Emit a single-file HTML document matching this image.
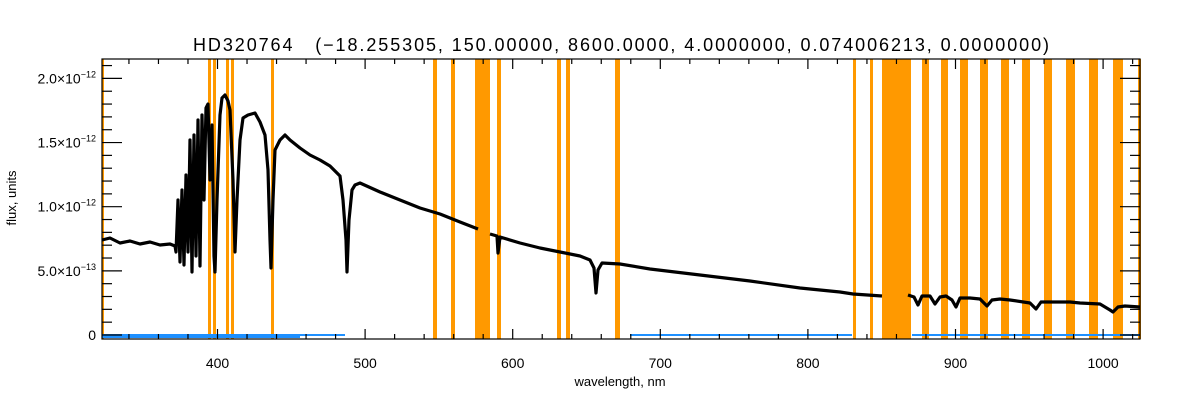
<!DOCTYPE html>
<html><head><meta charset="utf-8"><style>
body{margin:0;background:#fff;width:1200px;height:400px;overflow:hidden}
svg{display:block;font-family:"Liberation Sans",sans-serif}
</style></head><body>
<svg id="s" width="1200" height="400" xmlns="http://www.w3.org/2000/svg">
<text x="621" y="51" font-size="18" text-anchor="middle" fill="#000" textLength="856" lengthAdjust="spacing" style="white-space:pre">HD320764&#160;&#160;&#160;(−18.255305, 150.00000, 8600.0000, 4.0000000, 0.074006213, 0.0000000)</text>
<g id="bands" fill="#ff9900"></g>
<g stroke="#1e90ff" stroke-width="2" fill="none">
<path d="M102 335 H345 M102 337 H300 M630 335 H852 M912 335 H1140"/>
</g>
<polyline fill="none" stroke="#000" stroke-width="3.2" stroke-linejoin="round" points="102,240 110,238 120,243 130,241 140,244 150,242 160,245 170,244 175,246 176,252 178,200 180,262 182,190 184,265 186,175 188,252 190,140 192,272 194,135 196,256 198,120 200,266 202,115 204,200 206,108 208,104 210,180 212,125 214,256 215,272 217,200 220,115 222,98 225,95 228,101 230,110 233,180 235,252 237,200 240,140 243,118 248,115 255,113 260,122 265,135 268,170 270,240 271,268 273,200 275,150 280,140 285,135 290,140 300,148 310,155 320,160 330,166 340,176 343,200 346,240 347,272 349,220 352,190 355,185 360,183 380,192 400,200 420,208 440,214 460,222 478,229"/>
<polyline fill="none" stroke="#000" stroke-width="3.2" stroke-linejoin="round" points="490,234 497,236 498,253 500,237 520,243 540,248 560,252 580,256 590,260 594,268 596,293 598,270 602,263 620,264 650,269 700,275 750,281 800,288 840,292 853,294 882,296"/>
<polyline fill="none" stroke="#000" stroke-width="3.2" stroke-linejoin="round" points="908,295 914,297 918,305 922,296 930,296 935,304 940,297 946,296 952,300 956,307 960,298 970,298 980,299 987,306 992,300 1000,299 1010,300 1030,303 1036,309 1041,302 1050,302 1070,302 1080,303 1100,304 1110,310 1113,312 1118,307 1125,306 1140,307"/>
<g id="ax" stroke="#000" stroke-width="1.2" fill="none"></g>
<g id="lbl" font-size="14" fill="#000"></g>
<text x="620" y="386" font-size="13" text-anchor="middle">wavelength, nm</text>
<text transform="translate(16,198) rotate(-90)" font-size="13" text-anchor="middle">flux, units</text>
</svg>
<script>
var NS="http://www.w3.org/2000/svg";
function el(p,t,a,txt){var e=document.createElementNS(NS,t);for(var k in a)e.setAttribute(k,a[k]);if(txt!=null)e.textContent=txt;p.appendChild(e);return e;}
var bands=[[102,104],[208,211],[213,216],[226,229],[231,234],[271,274],[433,437],[451,455],[475,490],[497,501],[557,561],[566,570],[615,620],[853,856],[870,873],[882,911],[922,929],[941,948],[960,968],[980,988],[1001,1009],[1022,1030],[1044,1052],[1066,1075],[1089,1098],[1113,1123],[1138,1141]];
var bg=document.getElementById('bands');
bands.forEach(function(b){el(bg,'rect',{x:b[0],y:59,width:b[1]-b[0],height:280});});
var ax=document.getElementById('ax'),lb=document.getElementById('lbl');
var L=102,R=1140,T=59,B=339;
el(ax,'rect',{x:L,y:T,width:R-L,height:B-T});
function X(w){return 217.5+(w-400)*1.476;}
function Y(f){return 335-f*128.3;}
for(var w=340;w<=1020;w+=20){var x=X(w);if(x<L||x>R)continue;var maj=(w%100==0);var len=maj?10:5;
el(ax,'line',{x1:x,y1:B,x2:x,y2:B-len});el(ax,'line',{x1:x,y1:T,x2:x,y2:T+len});
if(maj)el(lb,'text',{x:x,y:368,'text-anchor':'middle'},String(w));}
for(var i=0;i<=21;i++){var f=i*0.1,y=Y(f);if(y<T)continue;var maj=(i%5==0),len=maj?20:10;
el(ax,'line',{x1:L,y1:y,x2:L+len,y2:y});el(ax,'line',{x1:R,y1:y,x2:R-len,y2:y});}
var yl=[[0,"0",""],[0.5,"5.0×10","−13"],[1.0,"1.0×10","−12"],[1.5,"1.5×10","−12"],[2.0,"2.0×10","−12"]];
yl.forEach(function(a){var y=Y(a[0]);var t=el(lb,'text',{x:96,y:y+5,'text-anchor':'end'});
el(t,'tspan',{},a[1]);if(a[2]){el(t,'tspan',{dy:-6,'font-size':'9'},a[2]);}});
</script>
</body></html>
